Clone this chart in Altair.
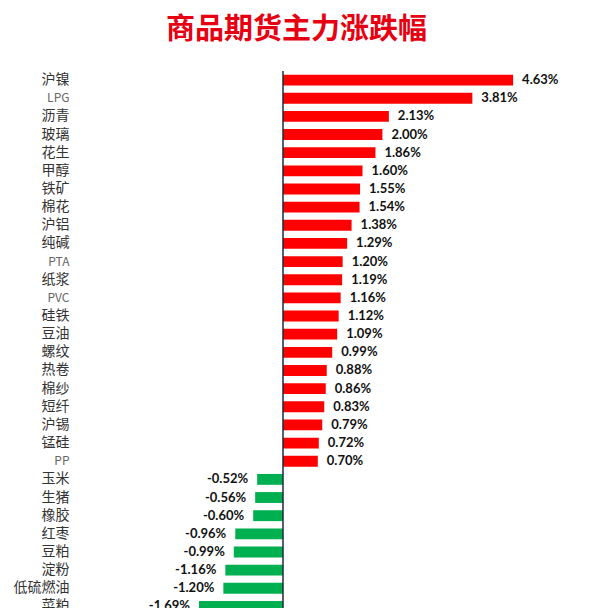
import altair as alt
import pandas as pd

names = ["沪镍", "LPG", "沥青", "玻璃", "花生", "甲醇", "铁矿", "棉花", "沪铝", "纯碱",
         "PTA", "纸浆", "PVC", "硅铁", "豆油", "螺纹", "热卷", "棉纱", "短纤", "沪锡",
         "锰硅", "PP", "玉米", "生猪", "橡胶", "红枣", "豆粕", "淀粉", "低硫燃油", "菜粕"]
values = [4.63, 3.81, 2.13, 2.00, 1.86, 1.60, 1.55, 1.54, 1.38, 1.29,
          1.20, 1.19, 1.16, 1.12, 1.09, 0.99, 0.88, 0.86, 0.83, 0.79,
          0.72, 0.70, -0.52, -0.56, -0.60, -0.96, -0.99, -1.16, -1.20, -1.69]
latin_names = ["LPG", "PTA", "PVC", "PP"]

df = pd.DataFrame({"name": names, "value": values})
df["label"] = [f"{v:.2f}%" for v in values]

latin_test = "indexof(%s, datum.value) >= 0" % str(latin_names)

step = 18.15
y = alt.Y(
    "name:N",
    sort=names,
    scale=alt.Scale(range=[0, step * len(names)], paddingInner=0.4, paddingOuter=0.2),
    axis=alt.Axis(
        title=None, domain=False, ticks=False, labelPadding=5,
        labelFont="Noto Sans CJK SC",
        labelFontSize={"condition": {"test": latin_test, "value": 12}, "value": 14},
        labelColor={"condition": {"test": latin_test, "value": "#666666"}, "value": "#333333"},
    ),
)
x = alt.X("value:Q", scale=alt.Scale(domain=[-4.205, 6.378], nice=False, zero=False), axis=None)

base = alt.Chart(df)
bars = base.mark_bar().encode(
    y=y, x=x, x2=alt.datum(0),
    color=alt.condition(alt.datum.value > 0, alt.value("#ff0000"), alt.value("#00b050")),
)
pos_text = base.transform_filter(alt.datum.value > 0).mark_text(
    align="left", baseline="middle", dx=9, font="Lato", fontWeight="bold", fontSize=13, color="#111111"
).encode(y=y, x=x, text="label:N")
neg_text = base.transform_filter(alt.datum.value < 0).mark_text(
    align="right", baseline="middle", dx=-9, font="Lato", fontWeight="bold", fontSize=13, color="#111111"
).encode(y=y, x=x, text="label:N")

zero = alt.Chart(pd.DataFrame({"zero": [0.0]})).mark_rule(color="#1c2b3a", strokeWidth=1.5).encode(
    x=alt.X("zero:Q", scale=alt.Scale(domain=[-4.205, 6.378], nice=False, zero=False), axis=None)
)

chart = alt.layer(bars, pos_text, neg_text, zero).properties(
    width=526,
    height=537,
    title=alt.TitleParams(
        text="商品期货主力涨跌幅", anchor="start", dx=153, offset=25,
        fontSize=29, font="Noto Sans CJK SC", fontWeight="bold", color="#e60012",
    ),
    autosize=alt.AutoSizeParams(type="none"),
    padding={"left": 74, "top": 71, "right": 0, "bottom": 0},
    background="white",
).configure_view(stroke=None)

chart.save("out.html", embed_options={"renderer": "svg", "actions": False})
